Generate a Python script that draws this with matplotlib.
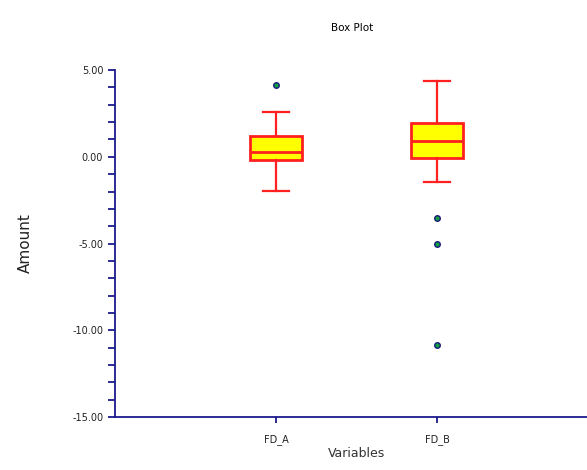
import numpy as np
import matplotlib.pyplot as plt
from matplotlib.ticker import MultipleLocator, FormatStrFormatter

variables = ['FD_A', 'FD_B']
q1 = [-0.19, -0.05]
med = [0.26, 0.93]
q3 = [1.20, 1.93]
wlo = [-1.97, -1.44]
whi = [2.60, 4.38]
outliers = [[4.12], [-3.51, -5.03, -10.85]]

stats = []
for i in range(len(variables)):
	stats.append({'label': variables[i], 'q1': q1[i], 'med': med[i], 'q3': q3[i],
		'whislo': wlo[i], 'whishi': whi[i], 'fliers': outliers[i]})

fig = plt.figure(figsize=(5.87, 4.70), dpi=100)
ax = fig.add_axes([0.196, 0.1128, 0.823, 0.738])

ax.bxp(stats, positions=[1, 2], widths=0.32, patch_artist=True, showfliers=True,
	boxprops=dict(facecolor='#ffff00', edgecolor='#ff2020', linewidth=2),
	medianprops=dict(color='#ff2020', linewidth=2),
	whiskerprops=dict(color='#ff2020', linewidth=1.6),
	capprops=dict(color='#ff2020', linewidth=1.6),
	capwidths=0.16,
	flierprops=dict(marker='o', markersize=4, markerfacecolor='#10a040',
		markeredgecolor='#1a1a80', markeredgewidth=1))

ax.set_xlim(0, 3)
ax.set_ylim(-15, 5)
ax.yaxis.set_major_locator(MultipleLocator(5))
ax.yaxis.set_minor_locator(MultipleLocator(1))
ax.yaxis.set_major_formatter(FormatStrFormatter('%.2f'))

for s in ['top', 'right']:
	ax.spines[s].set_visible(False)
for s in ['left', 'bottom']:
	ax.spines[s].set_color('#1a1a8c')
	ax.spines[s].set_linewidth(1.3)
ax.tick_params(which='both', color='#1a1a8c', width=1.3, length=5, labelsize=7, labelcolor='#222222')
ax.tick_params(axis='x', length=4, pad=8)

ax.set_xlabel('Variables', fontsize=9, color='#333333', labelpad=2)
ax.set_ylabel('Amount', fontsize=11, color='#222222', labelpad=28)
fig.text(0.60, 0.94, 'Box Plot', fontsize=7.5, ha='center', va='center')

plt.savefig('out.png')
